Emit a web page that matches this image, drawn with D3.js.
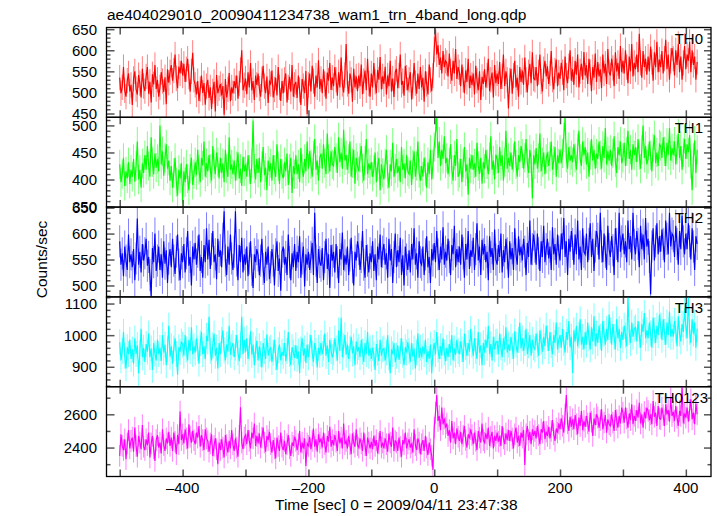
<!DOCTYPE html>
<html><head><meta charset="utf-8">
<script src="https://cdn.jsdelivr.net/npm/d3@7"></script>
<style>
body{margin:0;background:#fff}
svg{display:block}
text{font-family:"Liberation Sans",Arial,Helvetica,sans-serif;fill:#000}
</style>
</head><body>
<svg id="c" width="717" height="516"></svg>
<script>
const title = "ae404029010_20090411234738_wam1_trn_4band_long.qdp";
const xLabel = "Time [sec] 0 = 2009/04/11 23:47:38";
const yLabel = "Counts/sec";
const tStart = -500, tStep = 2;
const xDomain = [-521, 440];
const xTicks = [-500, -400, -300, -200, -100, 0, 100, 200, 300, 400];
const xTickLabels = [-400, -200, 0, 200, 400];
const panelNames = ["TH0", "TH1", "TH2", "TH3", "TH0123"];
const panelColors = ["#ff0000", "#00ff00", "#0000ff", "#00ffff", "#ff00ff"];
const errHalf = [30, 27, 31, 41, 65];
const yDomains = [[441, 654], [349, 515], [478, 651], [837, 1121], [2226, 2766]];
const yMajorTicks = [[450, 500, 550, 600, 650], [350, 400, 450, 500], [500, 550, 600, 650], [900, 1000, 1100], [2400, 2600]];
const yMinorStep = [10, 10, 10, 20, 100];

const th0 = [
535,498,512,560,505,490,528,545,502,518,
470,532,550,508,495,541,522,488,556,515,
503,538,560,497,525,476,543,519,565,508,
530,490,512,548,527,501,536,472,555,523,
548,565,528,552,590,533,510,561,545,575,
540,568,525,555,580,537,502,550,594,530,
518,495,527,480,508,540,499,522,471,515,
530,487,512,461,503,525,455,541,498,510,
520,493,515,447,532,488,507,546,479,512,
498,527,510,540,485,521,553,600,505,517,
533,496,548,512,570,505,527,482,540,518,
545,509,490,531,563,515,498,538,475,526,
520,552,488,507,535,493,560,512,480,527,
498,530,545,476,512,537,502,565,490,518,
525,487,540,506,470,532,515,498,551,448,
518,545,502,563,527,490,540,512,576,508,
532,498,555,520,485,547,528,570,506,535,
515,560,530,492,548,512,583,520,500,541,
615,520,497,545,530,478,556,512,538,503,
540,515,566,496,527,552,505,580,521,490,
545,512,570,525,498,553,530,584,507,538,
520,561,495,540,515,575,502,533,489,548,
556,510,540,590,518,527,492,563,535,505,
530,548,483,515,570,522,497,545,508,560,
512,535,478,550,520,495,566,530,503,540,
602,650,590,612,565,583,545,598,560,575,
570,538,592,550,528,575,545,603,532,560,
548,515,566,530,498,552,525,580,510,540,
518,545,495,563,528,505,550,482,537,520,
555,512,540,580,503,530,547,488,565,522,
545,520,572,508,538,590,515,550,530,462,
528,556,497,540,575,512,535,490,560,525,
552,518,583,530,500,548,568,522,595,533,
530,560,515,548,590,526,502,555,575,538,
562,520,545,598,530,507,552,578,515,547,
532,570,548,505,585,540,522,562,600,528,
555,518,575,542,590,512,550,568,530,596,
540,565,520,580,548,503,560,535,592,525,
572,538,555,510,590,545,568,520,603,548,
540,580,558,515,595,550,570,532,610,548,
575,545,600,560,522,585,550,615,538,570,
555,590,548,639,570,535,598,560,580,542,
585,550,608,572,528,595,560,620,548,578,
560,598,545,580,625,555,590,530,575,605,
580,540,600,565,615,548,585,530,570,610,
555,590,575,620,548,600,565,585,530,572
];

const th1 = [
428,395,410,440,388,415,402,432,392,418,
405,438,396,425,470,400,418,385,430,412,
445,418,462,425,405,478,432,410,448,422,
438,415,500,428,452,407,440,465,420,435,
398,425,385,412,440,395,370,418,402,430,
356,415,395,428,402,380,420,440,390,410,
432,408,455,418,395,440,426,470,405,430,
415,445,420,398,462,428,410,450,432,402,
440,412,430,395,455,420,405,478,418,428,
410,435,398,425,450,402,420,388,442,415,
428,405,445,418,392,430,509,420,400,438,
412,440,395,425,460,408,422,380,435,415,
430,398,445,418,405,465,425,392,438,410,
402,432,415,448,390,420,440,375,425,410,
445,410,428,395,458,420,405,438,415,470,
420,452,428,405,445,475,418,435,398,440,
448,420,465,430,410,485,438,415,452,428,
425,460,440,412,478,432,450,420,492,435,
445,418,438,470,405,430,455,392,440,425,
415,440,462,420,398,435,475,410,430,418,
432,405,418,450,395,425,440,380,428,412,
400,430,455,410,385,428,415,468,405,420,
438,412,425,395,460,418,430,402,445,415,
410,435,390,428,452,405,425,470,412,398,
425,405,440,415,385,432,410,455,400,428,
460,485,515,440,470,425,455,438,480,430,
440,410,432,465,418,398,445,425,475,405,
412,438,395,430,460,415,428,372,440,420,
445,418,430,405,468,425,410,440,392,432,
420,455,428,410,442,480,418,435,400,446,
438,412,460,425,445,398,432,490,420,440,
425,450,418,440,470,428,405,445,432,462,
448,420,440,475,430,412,455,438,365,445,
428,458,420,440,485,415,432,450,410,438,
450,425,442,470,418,435,460,405,445,430,
455,430,448,478,515,440,420,460,435,445,
432,465,440,418,458,490,438,425,470,445,
460,428,450,405,445,475,435,455,420,448,
438,470,445,420,462,440,495,428,452,435,
455,425,448,480,432,412,460,445,470,430,
440,468,425,452,490,438,455,418,465,445,
460,432,475,445,420,455,500,440,462,428,
438,470,445,415,458,482,430,450,425,465,
462,440,478,452,425,468,445,495,435,458,
445,470,428,455,485,440,462,418,450,475,
438,465,450,482,428,380,440,472,412,455
];

const th2 = [
585,540,562,518,575,548,530,598,545,560,
535,570,510,552,629,540,565,525,580,548,
562,590,538,555,520,480,572,545,600,528,
548,575,530,560,515,585,542,568,505,552,
570,535,590,548,522,565,598,540,510,562,
545,580,525,562,605,538,555,500,575,550,
582,540,565,598,528,555,515,578,545,610,
550,588,532,570,605,545,560,512,590,555,
568,535,590,643,548,520,575,540,598,552,
530,565,643,548,510,578,545,592,525,560,
540,575,518,552,585,530,495,560,545,570,
558,520,548,590,532,505,565,540,575,512,
535,570,548,500,560,585,528,552,490,565,
575,540,555,520,598,545,510,562,535,580,
528,565,545,595,515,552,575,498,560,540,
565,530,555,582,520,640,548,505,570,545,
538,572,510,555,590,532,560,495,578,548,
565,525,580,545,505,570,550,602,530,558,
540,575,520,558,592,535,500,565,548,585,
570,530,555,605,540,515,578,548,525,562,
545,585,528,560,510,575,550,598,535,565,
580,540,562,515,590,548,570,505,555,600,
535,568,545,592,520,558,500,575,550,530,
568,525,580,550,610,540,562,515,585,545,
540,575,520,560,595,535,555,505,570,548,
582,545,605,560,530,575,550,612,540,565,
548,590,555,520,578,560,615,535,570,545,
575,540,598,562,515,580,550,605,532,568,
555,592,530,570,620,548,575,520,588,560,
580,545,565,510,595,555,572,530,608,550,
540,578,555,600,525,568,545,590,562,515,
585,550,572,530,610,560,540,595,558,575,
548,590,565,520,582,555,625,540,570,598,
575,540,600,562,528,585,555,615,545,570,
590,552,575,530,612,560,580,540,598,565,
548,600,570,630,555,585,520,590,565,605,
580,540,598,560,625,550,575,530,610,565,
560,600,545,580,620,555,590,528,575,605,
590,550,640,575,545,600,565,530,615,570,
555,595,568,520,610,580,545,640,565,585,
600,560,585,545,625,570,595,550,640,578,
560,605,580,535,615,570,598,550,630,575,
590,555,483,575,610,548,585,620,560,595,
565,608,580,545,625,590,560,640,575,600,
595,555,615,580,540,605,570,635,585,560,
600,570,620,585,550,610,575,530,595,580
];

const th3 = [
978,920,950,1010,935,895,962,940,985,925,
955,910,990,940,968,880,945,1020,930,960,
915,972,948,1005,930,958,890,975,942,920,
985,940,960,918,1000,945,970,905,955,1030,
932,965,910,958,990,940,875,962,948,980,
970,935,1000,955,920,985,950,1025,940,965,
945,990,958,910,975,1010,940,965,925,998,
980,1058,950,920,968,1005,935,960,895,975,
940,985,1015,952,920,970,948,1030,938,962,
975,930,960,1000,945,918,968,1058,940,985,
948,990,925,960,1012,938,970,905,955,982,
920,965,940,898,975,950,925,1002,935,955,
960,915,945,985,930,890,952,970,920,948,
935,975,918,950,1010,940,905,962,945,928,
968,925,948,880,955,990,935,958,912,970,
930,962,1000,942,915,975,950,898,960,938,
975,940,960,1005,935,968,915,985,950,930,
945,990,958,920,1015,950,1055,930,965,1000,
938,970,925,958,995,942,965,905,980,948,
962,930,985,948,915,975,940,1010,935,958,
925,960,940,890,972,945,918,985,935,955,
958,920,945,1000,930,880,955,940,975,915,
935,968,922,950,990,938,905,962,945,978,
950,915,975,932,958,895,945,1005,928,960,
930,965,940,985,915,950,925,970,880,948,
975,940,1010,955,925,965,935,990,945,918,
960,930,972,945,1000,920,958,938,985,950,
940,980,955,915,1005,962,935,975,948,1020,
970,935,990,950,925,1010,945,968,905,975,
945,985,960,1030,940,972,920,995,955,978,
980,940,1005,962,930,990,955,1025,945,970,
950,995,965,925,1012,970,945,985,1040,958,
990,950,975,1020,940,968,1000,935,985,962,
955,1005,970,935,1015,980,948,995,965,1030,
990,950,1010,968,940,1000,975,1040,955,985,
1000,960,1020,975,945,1010,985,1045,962,995,
880,1015,980,1030,965,1000,1050,970,995,955,
1010,970,1040,990,955,1025,980,1060,965,1005,
975,1030,995,950,1045,1005,970,1020,985,1065,
1015,970,1035,995,955,1050,990,1020,960,1010,
985,1030,1000,965,1121,1010,975,1040,995,1020,
1025,980,1045,1000,960,1035,1010,1070,990,1015,
990,1040,1005,960,1055,1015,975,1030,1000,1065,
1030,985,1050,1010,970,1040,1000,1075,995,1020,
995,1045,1015,965,1060,1005,980,1035,1010,1085,
1030,990,1121,1010,975,1050,1005,1040,960,1020
];

const th0123 = [
2350,2480,2410,2385,2450,2330,2425,2505,2395,2440,
2460,2375,2520,2410,2345,2470,2430,2390,2535,2405,
2385,2450,2415,2490,2340,2425,2470,2395,2320,2445,
2475,2400,2430,2365,2510,2415,2380,2455,2425,2495,
2410,2460,2380,2490,2435,2360,2475,2420,2616,2445,
2480,2425,2510,2455,2395,2540,2465,2430,2500,2445,
2420,2490,2460,2530,2405,2475,2445,2385,2510,2455,
2440,2375,2425,2480,2350,2410,2455,2390,2300,2430,
2385,2450,2400,2340,2475,2415,2370,2440,2395,2505,
2420,2380,2455,2400,2345,2470,2642,2430,2390,2460,
2475,2420,2505,2440,2395,2490,2455,2545,2410,2470,
2425,2485,2400,2460,2520,2430,2375,2470,2445,2495,
2420,2370,2445,2395,2335,2460,2410,2380,2490,2405,
2385,2440,2360,2420,2475,2395,2350,2430,2410,2465,
2440,2385,2420,2500,2370,2430,2395,2455,2290,2425,
2410,2465,2390,2440,2515,2405,2450,2375,2480,2430,
2455,2400,2490,2420,2370,2470,2435,2525,2405,2445,
2415,2475,2435,2380,2500,2425,2460,2395,2545,2420,
2440,2395,2470,2420,2360,2485,2430,2405,2510,2415,
2400,2455,2425,2380,2490,2415,2350,2460,2430,2395,
2435,2390,2470,2410,2445,2365,2425,2500,2400,2430,
2395,2455,2420,2375,2485,2430,2405,2520,2380,2440,
2430,2380,2460,2405,2345,2445,2420,2490,2395,2425,
2450,2400,2425,2370,2510,2415,2385,2455,2430,2360,
2420,2445,2380,2470,2400,2355,2430,2390,2350,2266,
2520,2610,2716,2560,2590,2505,2640,2540,2575,2520,
2545,2470,2505,2430,2560,2455,2490,2420,2515,2465,
2440,2495,2420,2470,2530,2445,2400,2480,2455,2510,
2475,2420,2490,2440,2385,2500,2460,2430,2545,2445,
2430,2485,2450,2520,2410,2465,2495,2395,2470,2440,
2490,2435,2470,2410,2530,2455,2420,2485,2445,2505,
2440,2500,2455,2395,2480,2520,2430,2470,2410,2490,
2460,2505,2296,2480,2530,2445,2495,2420,2510,2470,
2500,2455,2530,2475,2420,2510,2490,2560,2450,2495,
2470,2525,2455,2500,2565,2480,2440,2515,2490,2545,
2510,2575,2530,2490,2600,2716,2545,2500,2585,2525,
2570,2510,2595,2540,2480,2580,2530,2620,2505,2560,
2525,2590,2545,2495,2610,2555,2470,2575,2535,2600,
2580,2520,2565,2630,2510,2550,2595,2490,2570,2540,
2530,2600,2550,2500,2625,2565,2520,2590,2545,2640,
2610,2550,2640,2575,2520,2605,2565,2660,2540,2590,
2560,2625,2580,2670,2545,2600,2520,2615,2575,2640,
2620,2565,2600,2540,2680,2585,2610,2530,2650,2575,
2570,2640,2595,2530,2660,2600,2625,2555,2700,2590,
2615,2560,2650,2580,2530,2620,2590,2766,2545,2605,
2580,2640,2555,2625,2690,2570,2610,2540,2665,2600
];

const series = [th0, th1, th2, th3, th0123];

const L = 106.5, R = 711, T = 27.5, B = 476.5;
const ph = (B - T) / 5;
const svg = d3.select("#c");
const x = d3.scaleLinear().domain(xDomain).range([L, R]);
const fmtX = d3.format("d");

svg.append("text").attr("x", 107).attr("y", 20).style("font-size", "15.5px").text(title);

series.forEach((vals, i) => {
  const top = T + i * ph, bot = top + ph;
  const y = d3.scaleLinear().domain(yDomains[i]).range([bot, top]);
  const g = svg.append("g");
  const clipId = "clip" + i;
  svg.append("clipPath").attr("id", clipId).append("rect")
    .attr("x", L).attr("y", top).attr("width", R - L).attr("height", ph);
  const pts = vals.map((v, k) => ({t: tStart + k * tStep, v}));
  const dg = g.append("g").attr("clip-path", `url(#${clipId})`);
  dg.selectAll("line.err").data(pts).join("line").attr("class", "err")
    .attr("x1", d => x(d.t)).attr("x2", d => x(d.t))
    .attr("y1", d => y(d.v - errHalf[i])).attr("y2", d => y(d.v + errHalf[i]))
    .attr("stroke", panelColors[i]).attr("stroke-opacity", 0.5).attr("stroke-width", 1);
  dg.append("path").datum(pts)
    .attr("d", d3.line().x(d => x(d.t)).y(d => y(d.v)))
    .attr("fill", "none").attr("stroke", panelColors[i]).attr("stroke-width", 1.15);

  const minors = d3.range(Math.ceil(yDomains[i][0] / yMinorStep[i]) * yMinorStep[i], yDomains[i][1], yMinorStep[i])
    .filter(v => !yMajorTicks[i].includes(v));
  const leftMaj = d3.axisRight(y).tickValues(yMajorTicks[i]).tickSize(8).tickFormat("");
  const leftMin = d3.axisRight(y).tickValues(minors).tickSize(4).tickFormat("");
  const rightMaj = d3.axisLeft(y).tickValues(yMajorTicks[i]).tickSize(7).tickFormat("");
  const rightMin = d3.axisLeft(y).tickValues(minors).tickSize(3.5).tickFormat("");
  [[leftMaj, L], [leftMin, L], [rightMaj, R], [rightMin, R]].forEach(([ax, xx]) => {
    const a = g.append("g").attr("transform", `translate(${xx},0)`).call(ax);
    a.select(".domain").remove();
    a.selectAll("line").attr("stroke", "#555").attr("stroke-width", 1.5);
  });
  g.selectAll("text.yl").data(yMajorTicks[i]).join("text").attr("class", "yl")
    .attr("x", 97).attr("y", d => y(d)).attr("dy", "0.36em")
    .attr("text-anchor", "end").style("font-size", "15px").text(d => d);

  const xb = d3.axisTop(x).tickValues(xTicks).tickSize(7).tickFormat("");
  const xt = d3.axisBottom(x).tickValues(xTicks).tickSize(7).tickFormat("");
  [[xb, bot], [xt, top]].forEach(([ax, yy]) => {
    const a = g.append("g").attr("transform", `translate(0,${yy})`).call(ax);
    a.select(".domain").remove();
    a.selectAll("line").attr("stroke", "#555").attr("stroke-width", 1.5);
  });

  g.append("rect").attr("x", L).attr("y", top).attr("width", R - L).attr("height", ph)
    .attr("fill", "none").attr("stroke", "#000").attr("stroke-width", 1.3);

  g.append("text").attr("x", i === 4 ? 708 : 703).attr("y", top + 16)
    .attr("text-anchor", "end").style("font-size", "15px").text(panelNames[i]);
});

svg.selectAll("text.xl").data(xTickLabels).join("text").attr("class", "xl")
  .attr("x", d => x(d)).attr("y", 493).attr("text-anchor", "middle")
  .style("font-size", "15px").text(d => d < 0 ? "\u2013" + Math.abs(d) : fmtX(d));

svg.append("text").attr("x", 275).attr("y", 510).style("font-size", "15.5px").text(xLabel);
svg.append("text").attr("transform", "translate(47,259.5) rotate(-90)")
  .attr("text-anchor", "middle").style("font-size", "15.5px").text(yLabel);
</script>
</body></html>
